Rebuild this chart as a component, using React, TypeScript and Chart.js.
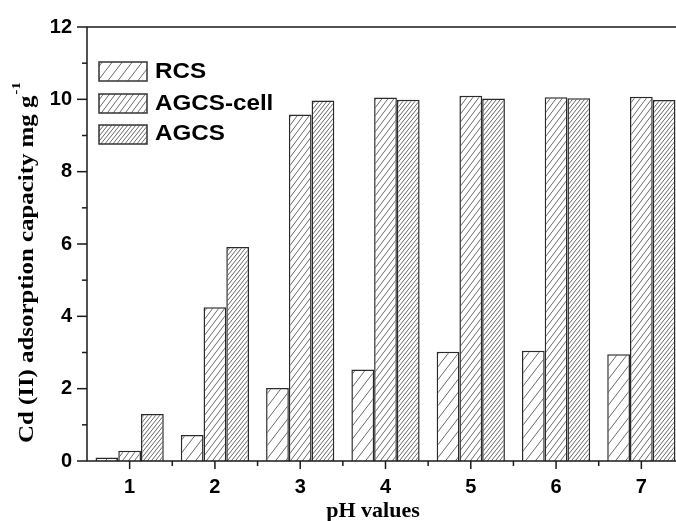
import React, { useEffect, useRef } from "react";
import { Chart, registerables } from "chart.js";

Chart.register(...registerables);

const categories = ["1", "2", "3", "4", "5", "6", "7"];
const seriesNames = ["RCS", "AGCS-cell", "AGCS"];
const rcsValues = [0.1, 0.72, 2.02, 2.53, 3.02, 3.05, 2.95];
const agcsCellValues = [0.28, 4.25, 9.58, 10.05, 10.1, 10.06, 10.07];
const agcsValues = [1.3, 5.92, 9.97, 9.99, 10.02, 10.03, 9.98];
const yTicks = [0, 2, 4, 6, 8, 10, 12];
const xTitle = "pH values";
const yTitle = "Cd (II) adsorption capacity mg g";
const yTitleSup = "-1";

const W = 700;
const H = 521;

function makeHatch(spacing: number, slope: number) {
  const w = spacing;
  const h = Math.round(spacing * slope);
  const tile = document.createElement("canvas");
  tile.width = w;
  tile.height = h;
  const c = tile.getContext("2d")!;
  c.fillStyle = "#ffffff";
  c.fillRect(0, 0, w, h);
  c.strokeStyle = "#6a6a6a";
  c.lineWidth = 1;
  for (let k = -1; k <= 1; k++) {
    c.beginPath();
    c.moveTo(k * w, h);
    c.lineTo(k * w + w, 0);
    c.stroke();
  }
  const pc = document.createElement("canvas").getContext("2d")!;
  return pc.createPattern(tile, "repeat")!;
}

export default function App() {
  const ref = useRef<HTMLCanvasElement | null>(null);

  useEffect(() => {
    const canvas = ref.current!;
    const patterns = [makeHatch(10, 1.3), makeHatch(6, 1.3), makeHatch(4, 1.3)];
    const values = [rcsValues, agcsCellValues, agcsValues];
    const tickFont = { family: 'Arial, "Liberation Sans", sans-serif', weight: "bold" as const, size: 20 };

    const decor = {
      id: "decor",
      afterDraw(chart: any) {
        const ctx = chart.ctx as CanvasRenderingContext2D;
        const a = chart.chartArea;
        const xs = chart.scales.x;
        const ys = chart.scales.y;
        ctx.save();
        ctx.strokeStyle = "#1a1a1a";
        ctx.lineWidth = 1.5;
        // frame
        ctx.strokeRect(a.left, a.top, a.right - a.left, a.bottom - a.top);
        // y ticks
        for (let v = 0; v <= 12; v++) {
          const y = ys.getPixelForValue(v);
          const len = v % 2 === 0 ? 10 : 5;
          ctx.beginPath();
          ctx.moveTo(a.left - len, y);
          ctx.lineTo(a.left, y);
          ctx.stroke();
        }
        // x ticks
        const centers = categories.map((_, i) => xs.getPixelForValue(i));
        const half = (centers[1] - centers[0]) / 2;
        centers.forEach((cx) => {
          ctx.beginPath();
          ctx.moveTo(cx, a.bottom);
          ctx.lineTo(cx, a.bottom + 8);
          ctx.stroke();
          ctx.beginPath();
          ctx.moveTo(cx + half, a.bottom);
          ctx.lineTo(cx + half, a.bottom + 5);
          ctx.stroke();
        });
        // legend
        const rows = [62, 94, 125];
        const baselines = [78, 110, 140];
        rows.forEach((ry, i) => {
          ctx.fillStyle = patterns[i];
          ctx.fillRect(99, ry, 48, 19);
          ctx.lineWidth = 1.5;
          ctx.strokeStyle = "#333";
          ctx.strokeRect(99, ry, 48, 19);
          ctx.save();
          ctx.translate(155, baselines[i]);
          ctx.scale(1.1, 1);
          ctx.fillStyle = "#000";
          ctx.font = 'bold 22px Arial, "Liberation Sans", sans-serif';
          ctx.textAlign = "left";
          ctx.textBaseline = "alphabetic";
          ctx.fillText(seriesNames[i], 0, 0);
          ctx.restore();
        });
        // x title
        ctx.fillStyle = "#000";
        ctx.font = 'bold 22px "Liberation Serif", "Times New Roman", serif';
        ctx.textAlign = "center";
        ctx.textBaseline = "alphabetic";
        ctx.fillText(xTitle, 373, 517);
        // y title
        ctx.save();
        ctx.translate(33, 443);
        ctx.rotate(-Math.PI / 2);
        ctx.scale(1.13, 1);
        ctx.textAlign = "left";
        ctx.font = 'bold 22px "Liberation Serif", "Times New Roman", serif';
        ctx.fillText(yTitle, 0, 0);
        const tw = ctx.measureText(yTitle).width;
        ctx.font = 'bold 13px "Liberation Serif", "Times New Roman", serif';
        ctx.fillText(yTitleSup, tw + 1, -13);
        ctx.restore();
        ctx.restore();
      },
    };

    const chart = new Chart(canvas, {
      type: "bar",
      data: {
        labels: categories,
        datasets: seriesNames.map((name, i) => ({
          label: name,
          data: values[i],
          backgroundColor: patterns[i] as any,
          borderColor: "#2a2a2a",
          borderWidth: 1.5,
          categoryPercentage: 0.8,
          barPercentage: 1.0,
        })),
      },
      options: {
        responsive: false,
        animation: false,
        devicePixelRatio: 1,
        layout: { padding: { top: 22, right: 16, left: 0, bottom: 0 } },
        plugins: { legend: { display: false }, tooltip: { enabled: false } },
        scales: {
          x: {
            type: "category",
            grid: { display: false, drawTicks: false },
            border: { display: false },
            ticks: { padding: 14, color: "#000", font: tickFont },
            afterFit: (s: any) => {
              s.height = 60;
            },
          },
          y: {
            min: 0,
            max: 12,
            grid: { display: false, drawTicks: false },
            border: { display: false },
            afterBuildTicks: (s: any) => {
              s.ticks = yTicks.map((v) => ({ value: v }));
            },
            ticks: { padding: 15, color: "#000", font: tickFont },
            afterFit: (s: any) => {
              s.width = 87;
            },
          },
        },
      },
      plugins: [decor],
    });
    return () => chart.destroy();
  }, []);

  return (
    <div style={{ position: "fixed", left: 0, top: 0, width: W, height: H, background: "#fff" }}>
      <canvas ref={ref} width={W} height={H} style={{ width: W, height: H, display: "block" }} />
    </div>
  );
}
